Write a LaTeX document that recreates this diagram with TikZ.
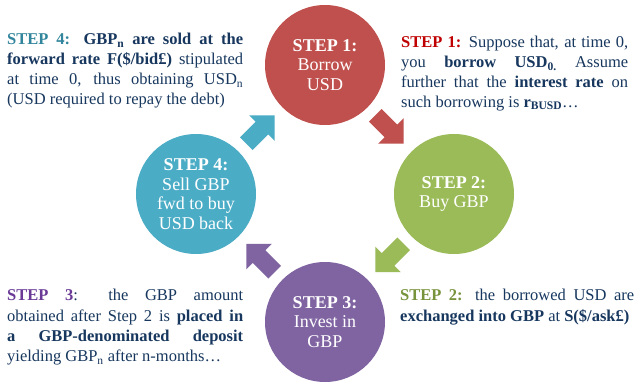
\documentclass[tikz,border=0pt]{standalone}
\usepackage{fontspec}
\setmainfont{Liberation Serif}
\usetikzlibrary{calc}
\definecolor{cred}{HTML}{C0504D}
\definecolor{cgreen}{HTML}{9BBB59}
\definecolor{cpurple}{HTML}{8064A2}
\definecolor{ccyan}{HTML}{4BACC6}
\definecolor{navy}{HTML}{17375E}
\definecolor{lred}{HTML}{C00000}
\definecolor{lgreen}{HTML}{77933C}
\definecolor{lpurple}{HTML}{6A3A96}
\definecolor{lcyan}{HTML}{31859C}
\begin{document}
\begin{tikzpicture}[x=1pt,y=1pt,
  stepcircle/.style={circle, fill=#1, minimum size=120pt, inner sep=0pt, text=white, align=center, font=\fontsize{18}{19.5}\selectfont},
  sidetext/.style={anchor=base west, inner sep=0pt, text=navy, align=justify, text width=#1, font=\fontsize{16.5}{19.8}\selectfont},
  widelines/.style={font=\fontsize{16.5}{20.3}\selectfont},
  blockarrow/.pic={\fill[#1] (-20,-9) -- (2,-9) -- (2,-18) -- (20,0) -- (2,18) -- (2,9) -- (-20,9) -- cycle;}
]
\useasboundingbox (0,0) rectangle (637,383);
\fill[white] (0,0) rectangle (637,383);

\node[stepcircle=cred]    (s1) at (325,318) {\textbf{STEP 1:}\\Borrow\\USD};
\node[stepcircle=cgreen]  (s2) at (454,189) {\textbf{STEP 2:}\\Buy GBP};
\node[stepcircle=cpurple] (s3) at (325,61)  {\textbf{STEP 3:}\\Invest in\\GBP};
\node[stepcircle=ccyan]   (s4) at (196,189) {\textbf{STEP 4:}\\Sell GBP\\fwd to buy\\USD back};

\pic[rotate=-45]  at ($(s1)!0.5!(s2)$) {blockarrow=cred};
\pic[rotate=-135] at ($(s2)!0.5!(s3)$) {blockarrow=cgreen};
\pic[rotate=135]  at ($(s3)!0.5!(s4)$) {blockarrow=cpurple};
\pic[rotate=45]   at ($(s4)!0.5!(s1)$) {blockarrow=ccyan};

\node[sidetext=236pt] (t4) at (7,338) {{\color{lcyan}\textbf{STEP 4:}} \textbf{GBP\textsubscript{n} are sold at the}\linebreak \textbf{forward rate F(\$/bid£)} stipulated\linebreak at time 0, thus obtaining USD\textsubscript{n}\linebreak (USD required to repay the debt)};

\node[sidetext=227pt] (t1) at (401,335) {{\color{lred}\textbf{STEP 1:}} Suppose that, at time 0,\linebreak you \textbf{borrow USD\textsubscript{0.}} Assume\linebreak further that the \textbf{interest rate} on\linebreak such borrowing is \textbf{r\textsubscript{BUSD}}…};

\node[sidetext=236pt, widelines] (t3) at (7,82) {{\color{lpurple}\textbf{STEP 3}}: the GBP amount\linebreak obtained after Step 2 is \textbf{placed in}\linebreak \textbf{a GBP-denominated deposit}\linebreak yielding GBP\textsubscript{n} after n-months…};

\node[sidetext=234pt, widelines] (t2) at (400,82) {{\color{lgreen}\textbf{STEP 2:}} the borrowed USD are\linebreak \textbf{exchanged into GBP} at \textbf{S(\$/ask£)}};
\end{tikzpicture}
\end{document}
